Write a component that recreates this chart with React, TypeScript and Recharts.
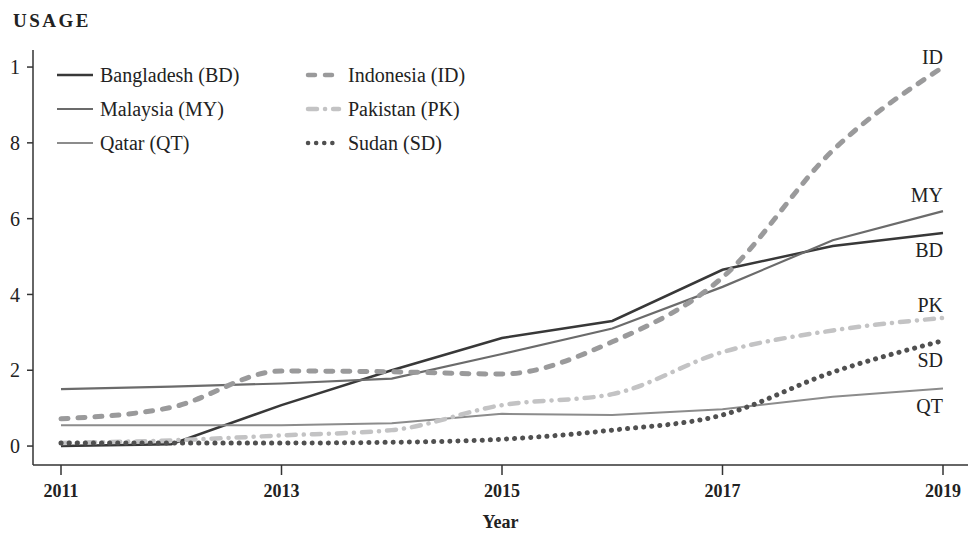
import React from 'react';
import { LineChart, Line, XAxis, YAxis } from 'recharts';

const years = [2011, 2012, 2013, 2014, 2015, 2016, 2017, 2018, 2019];
const bangladesh = [0, 0.05, 1.08, 2.0, 2.85, 3.3, 4.65, 5.28, 5.62];
const malaysia = [1.5, 1.57, 1.65, 1.78, 2.43, 3.1, 4.2, 5.43, 6.2];
const qatar = [0.55, 0.55, 0.55, 0.6, 0.85, 0.82, 0.97, 1.3, 1.52];
const indonesia = [0.72, 1.02, 1.98, 1.96, 1.9, 2.75, 4.45, 7.8, 10.0];
const pakistan = [0.08, 0.15, 0.28, 0.42, 1.08, 1.37, 2.48, 3.05, 3.38];
const sudan = [0.08, 0.08, 0.08, 0.1, 0.18, 0.42, 0.82, 1.95, 2.78];

const xTicks = [2011, 2013, 2015, 2017, 2019];
const yTicks = [0, 2, 4, 6, 8, 10];
const yTickLabels = ['0', '2', '4', '6', '8', '1'];

const FONT = '"Liberation Serif", "DejaVu Serif", serif';

type Series = {
  key: string;
  name: string;
  code: string;
  color: string;
  width: number;
  dash?: string;
  cap?: 'round' | 'butt';
  curve: 'linear' | 'monotone';
  labelDy: number;
};

const SERIES: Series[] = [
  { key: 'bd', name: 'Bangladesh (BD)', code: 'BD', color: '#383838', width: 2.5, cap: 'butt', curve: 'linear', labelDy: 17 },
  { key: 'my', name: 'Malaysia (MY)', code: 'MY', color: '#6b6b6b', width: 2.2, cap: 'butt', curve: 'linear', labelDy: -16 },
  { key: 'qt', name: 'Qatar (QT)', code: 'QT', color: '#8c8c8c', width: 2, cap: 'butt', curve: 'linear', labelDy: 18 },
  { key: 'id', name: 'Indonesia (ID)', code: 'ID', color: '#9a9a9b', width: 5, dash: '7 10', cap: 'round', curve: 'monotone', labelDy: -10 },
  { key: 'pk', name: 'Pakistan (PK)', code: 'PK', color: '#c3c3c4', width: 4.5, dash: '9 8 0.1 8', cap: 'round', curve: 'monotone', labelDy: -13 },
  { key: 'sd', name: 'Sudan (SD)', code: 'SD', color: '#505050', width: 5, dash: '0.1 8', cap: 'round', curve: 'monotone', labelDy: 19 },
];

const values: Record<string, number[]> = {
  bd: bangladesh,
  my: malaysia,
  qt: qatar,
  id: indonesia,
  pk: pakistan,
  sd: sudan,
};

const data = years.map((year, i) => {
  const row: Record<string, number> = { year };
  SERIES.forEach(s => {
    row[s.key] = values[s.key][i];
  });
  return row;
});

const LegendBox = () => {
  const cols = [SERIES.slice(0, 3), SERIES.slice(3)];
  return (
    <div
      style={{
        position: 'absolute',
        left: 57,
        top: 58,
        display: 'flex',
        fontFamily: FONT,
        fontSize: 20,
        color: '#222',
      }}
    >
      {cols.map((col, ci) => (
        <div key={ci} style={{ width: ci === 0 ? 248 : 200 }}>
          {col.map(s => (
            <div key={s.key} style={{ display: 'flex', alignItems: 'center', height: 34 }}>
              <svg width={37} height={10} style={{ marginRight: 6 }}>
                <line
                  x1={s.cap === 'round' ? 3 : 0}
                  y1={5}
                  x2={s.cap === 'round' ? 34 : 36}
                  y2={5}
                  stroke={s.color}
                  strokeWidth={s.cap === 'round' ? Math.min(s.width, 4.5) : s.width}
                  strokeDasharray={s.dash}
                  strokeLinecap={s.cap}
                />
              </svg>
              <span>{s.name}</span>
            </div>
          ))}
        </div>
      ))}
    </div>
  );
};

const endLabel = (s: Series) => (props: any) => {
  const { x, y, index } = props;
  if (index !== years.length - 1) return <g />;
  return (
    <text
      x={x}
      y={y + s.labelDy}
      textAnchor="end"
      dominantBaseline="central"
      fontFamily={FONT}
      fontSize={20}
      fill="#222"
    >
      {s.code}
    </text>
  );
};

export default function App() {
  return (
    <div style={{ position: 'absolute', left: 0, top: 0, width: 972, height: 534, background: '#fff' }}>
      <div
        style={{
          position: 'absolute',
          left: 13,
          top: 10,
          fontFamily: FONT,
          fontWeight: 'bold',
          fontSize: 19,
          color: '#222',
          letterSpacing: 2.5,
        }}
      >
        USAGE
      </div>
      <LineChart width={972} height={534} data={data} margin={{ top: 50, right: 4, left: 0, bottom: 0 }}>
        <XAxis
          dataKey="year"
          type="number"
          domain={[2011, 2019]}
          ticks={xTicks}
          padding={{ left: 28, right: 25 }}
          height={69}
          stroke="#333"
          strokeWidth={1.5}
          tickSize={10}
          tickMargin={9}
          tick={{ fontFamily: FONT, fontSize: 18, fontWeight: 'bold', fill: '#222' }}
          label={{
            value: 'Year',
            position: 'insideBottom',
            offset: 6,
            style: { fontFamily: FONT, fontSize: 18, fontWeight: 'bold', fill: '#222' },
          }}
        />
        <YAxis
          type="number"
          domain={[-0.5, 10.45]}
          ticks={yTicks}
          width={33}
          stroke="#333"
          strokeWidth={1.5}
          tickSize={6}
          tickMargin={7}
          tickFormatter={(v: number) => yTickLabels[yTicks.indexOf(v)] ?? String(v)}
          tick={{ fontFamily: FONT, fontSize: 20, fill: '#222' }}
          allowDataOverflow
        />
        {SERIES.map(s => (
          <Line
            key={s.key}
            dataKey={s.key}
            name={s.name}
            type={s.curve}
            stroke={s.color}
            strokeWidth={s.width}
            strokeDasharray={s.dash}
            strokeLinecap={s.cap}
            dot={false}
            activeDot={false}
            isAnimationActive={false}
            label={endLabel(s)}
          />
        ))}
      </LineChart>
      <LegendBox />
    </div>
  );
}
